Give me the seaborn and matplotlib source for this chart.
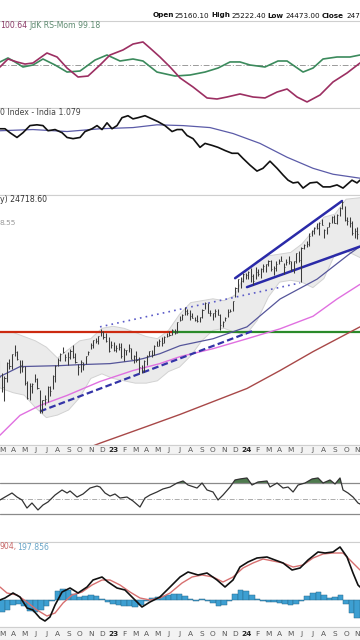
import numpy as np
import seaborn as sns
import matplotlib.pyplot as plt
from matplotlib.ticker import NullLocator

# x axis = months since Jan 2022 (Mar 2022 = 2, Jan 2023 = 12, Jan 2024 = 24)
month_pos = list(range(2, 35))
month_lbl = ['M', 'A', 'M', 'J', 'J', 'A', 'S', 'O', 'N', 'D', '23', 'F', 'M', 'A', 'M', 'J',
             'J', 'A', 'S', 'O', 'N', 'D', '24', 'F', 'M', 'A', 'M', 'J', 'J', 'A', 'S', 'O', 'N']

# --- JdK RS panel ---
rsr_m = [1.82, 2.54, 3.17, 3.89, 4.79, 5.69, 6.78, 7.86, 9.03, 10.38, 11.46, 12.63, 13.80, 14.70, 15.96,
         17.59, 18.94, 20.29, 21.46, 22.54, 23.44, 24.34, 25.69, 26.86, 27.68, 29.12, 30.02, 30.92, 32.18,
         33.35, 34.25]
rsr = [100.38, 100.88, 100.38, 99.75, 100.0, 100.75, 100.0, 99.12, 99.25, 100.62, 101.25, 100.5, 100.75,
       100.5, 99.12, 98.62, 98.75, 99.12, 99.62, 100.38, 100.38, 100.0, 99.75, 100.5, 100.5, 99.12, 99.62,
       100.75, 101.0, 101.0, 101.25]
rsm_m = [1.82, 2.54, 3.35, 4.07, 4.79, 5.42, 6.05, 6.96, 7.86, 8.85, 9.75, 10.83, 11.73, 12.90, 13.80, 14.70,
         15.33, 16.23, 17.14, 18.04, 19.21, 20.47, 21.37, 22.27, 23.44, 24.61, 25.69, 26.78, 27.68, 28.58,
         29.48, 30.65, 31.82, 33.08, 34.25]
rsm = [99.75, 100.75, 100.38, 100.12, 100.25, 100.88, 101.5, 101.0, 99.62, 98.5, 98.62, 100.0, 101.25,
       101.88, 102.62, 102.88, 102.12, 101.0, 99.75, 98.38, 97.25, 95.88, 95.75, 96.0, 96.38, 96.0, 95.88,
       96.62, 97.0, 96.0, 95.38, 96.25, 97.88, 99.0, 100.25]

# --- ratio vs India index ---
ratio_m = [1.82, 2.27, 2.72, 3.35, 3.89, 4.52, 5.15, 5.69, 6.14, 6.78, 7.41, 7.86, 8.40, 9.03, 9.48, 10.11,
           10.56, 11.01, 11.46, 11.91, 12.36, 12.81, 13.35, 13.80, 14.25, 14.88, 15.51, 16.05, 16.68, 17.32,
           17.77, 18.22, 18.67, 19.21, 19.84, 20.29, 20.92, 21.46, 22.09, 22.72, 23.26, 23.71, 24.34, 24.97,
           25.51, 26.14, 26.78, 27.32, 27.77, 28.22, 28.67, 29.12, 29.75, 30.38, 30.92, 31.55, 32.18, 32.72,
           33.53, 33.98, 34.25]
ratio = [1.209, 1.209, 1.199, 1.187, 1.199, 1.217, 1.219, 1.217, 1.204, 1.207, 1.199, 1.187, 1.184, 1.187,
         1.202, 1.209, 1.217, 1.207, 1.224, 1.209, 1.217, 1.237, 1.242, 1.234, 1.237, 1.242, 1.234, 1.227,
         1.217, 1.202, 1.207, 1.207, 1.192, 1.184, 1.162, 1.172, 1.167, 1.162, 1.154, 1.147, 1.147, 1.134,
         1.117, 1.102, 1.109, 1.127, 1.109, 1.092, 1.079, 1.072, 1.074, 1.059, 1.072, 1.074, 1.062, 1.062,
         1.067, 1.059, 1.079, 1.072, 1.079]
ratio_ma_m = [1.82, 4.79, 7.86, 10.83, 13.80, 15.96, 18.31, 20.74, 22.81, 25.24, 27.68, 30.02, 31.82, 34.25]
ratio_ma = [1.204, 1.207, 1.202, 1.209, 1.212, 1.219, 1.217, 1.212, 1.197, 1.172, 1.137, 1.109, 1.094, 1.084]

# --- weekly price bars (late Feb 2022 .. mid Nov 2024) ---
high_22 = [17350, 16820, 16700, 17340, 17440, 17700, 18110, 17800, 17400, 17400,
           17130, 16480, 16400, 16420, 16790, 16600, 16100, 15710, 15900, 16280,
           16300, 16750, 17170, 17490, 17720, 17990, 17690, 17780, 17930, 18100,
           17720, 17230, 17430, 17340, 17600, 17840, 18180, 18360, 18450, 18550,
           18890, 18780, 18650, 18480, 18270]
low_22 = [16200, 16030, 15670, 16450, 17000, 17000, 17600, 17400, 16820, 16890,
          16340, 15740, 15700, 16000, 16440, 16170, 15180, 15190, 15510, 15600,
          15860, 16140, 16440, 17150, 17350, 17710, 17350, 17170, 17450, 17500,
          17290, 16750, 16900, 16960, 17250, 17640, 17900, 17970, 18210, 18130,
          18550, 18400, 18250, 17780, 17970]
close_22 = [16660, 16245, 16630, 17290, 17150, 17670, 17780, 17480, 17170, 17100,
            16410, 15780, 16270, 16350, 16580, 16200, 15290, 15700, 15750, 16220,
            16050, 16720, 17160, 17400, 17700, 17760, 17560, 17540, 17830, 17530,
            17330, 17090, 17310, 17190, 17580, 17790, 18120, 18350, 18310, 18510,
            18700, 18500, 18270, 17810, 18110]
high_23 = [18250, 18100, 18200, 18200, 17970, 17880, 18130, 17960, 17650, 17800,
           17530, 17210, 17400, 17640, 17840, 17860, 18090, 18270, 18390, 18460,
           18530, 18660, 18780, 18860, 18890, 19200, 19520, 19600, 19990, 19870,
           19800, 19650, 19470, 19580, 19460, 19870, 20220, 20170, 19800, 19660,
           19850, 19850, 19590, 19280, 19450, 19880, 19880, 20290, 21010, 21490,
           21590, 21800]
low_23 = [17800, 17760, 17850, 17490, 17350, 17650, 17760, 17460, 17260, 17320,
          16850, 16830, 16880, 17200, 17580, 17550, 17650, 18040, 18050, 18060,
          18180, 18480, 18540, 18580, 18640, 18650, 19270, 19300, 19560, 19560,
          19300, 19400, 19250, 19230, 19220, 19430, 19870, 19640, 19500, 19330,
          19480, 19540, 18840, 18970, 19260, 19450, 19700, 19770, 20500, 20770,
          20980, 21330]
close_23 = [17860, 17960, 18030, 17600, 17850, 17860, 17940, 17470, 17590, 17410,
            17100, 16950, 17360, 17600, 17830, 17620, 18070, 18070, 18310, 18200,
            18500, 18530, 18560, 18830, 18670, 19190, 19330, 19560, 19750, 19650,
            19520, 19430, 19310, 19270, 19440, 19820, 20190, 19670, 19640, 19650,
            19750, 19540, 19050, 19230, 19430, 19730, 19790, 20270, 20970, 21460,
            21350, 21730]
high_24 = [21830, 21930, 22120, 21750, 22130, 22050, 22070, 22300, 22350, 22530,
           22530, 22180, 22520, 22620, 22780, 22400, 22630, 22790, 22520, 22500,
           22990, 23110, 23340, 23490, 23670, 24170, 24400, 24590, 24850, 24860,
           25080, 24420, 24590, 24870, 25270, 25330, 25430, 25850, 26280, 25910,
           25230, 25210, 24980, 24500, 24540, 24340]
low_24 = [21500, 21450, 21290, 21140, 21450, 21630, 21530, 21880, 21870, 22220,
          21900, 21710, 21950, 22300, 22500, 21780, 22250, 22350, 21930, 21820,
          22390, 22420, 21280, 23180, 23350, 23390, 23990, 24140, 24450, 24070,
          24690, 23890, 24100, 24550, 24810, 24800, 24760, 25290, 25710, 24970,
          24690, 24570, 24070, 23890, 23820, 23480]
close_24 = [21710, 21890, 21620, 21350, 21850, 21780, 22040, 22210, 22340, 22490,
            22020, 22100, 22330, 22510, 22520, 22150, 22420, 22480, 22060, 22470,
            22960, 22530, 23290, 23460, 23500, 24010, 24320, 24500, 24530, 24830,
            24720, 24370, 24540, 24820, 25240, 24850, 25360, 25790, 26180, 25010,
            24960, 24850, 24180, 24300, 24150, 23530]

bar_high = high_22 + high_23 + high_24
bar_low = low_22 + low_23 + low_24
bar_close = close_22 + close_23 + close_24
bar_m = [1.76 + 0.2287 * i for i in range(len(bar_high))]

# bollinger envelope
bb_m = [1.8, 3, 4, 5, 6, 7, 8, 9, 10, 11, 12, 13, 14, 15, 16, 17, 18, 19, 20, 21, 22, 23, 24, 25, 26, 27,
        28, 29, 30, 31, 32, 33, 34.25]
bb_up = [18700, 18700, 18500, 18300, 18000, 17500, 17900, 18300, 18400, 18900, 19000, 18900, 18700, 18500,
         18400, 18800, 19600, 20200, 20300, 20400, 20300, 20600, 21900, 22500, 22800, 22900, 23000, 23500,
         24300, 25200, 25400, 26400, 26500]
bb_lo = [16200, 16000, 15900, 15400, 15000, 15100, 15300, 15800, 16600, 16800, 16600, 16500, 16400, 16400,
         16500, 16900, 17100, 17600, 18300, 18800, 18900, 18700, 18600, 19300, 20500, 21300, 21400, 21300,
         21000, 21500, 22900, 23100, 22700]

ma50_m = [1.82, 3.62, 7.23, 9.03, 11.73, 13.80, 14.70, 16.23, 18.04, 21.01, 24.07, 27.05, 30.38, 33.35, 34.25]
ma50 = [16684, 17117, 17161, 17205, 17250, 17384, 17475, 17700, 18070, 18397, 18972, 20390, 21464, 22938, 23357]
ma100_m = [1.82, 3.62, 5.42, 7.86, 10.83, 13.80, 16.23, 18.04, 21.01, 24.07, 27.05, 30.02, 32.18, 34.25]
ma100 = [14333, 15087, 15481, 15887, 16471, 16944, 17252, 17566, 17930, 18397, 18876, 19500, 20390, 21178]
ma200_m = [9.93, 10.83, 15.06, 18.04, 24.07, 27.05, 30.02, 34.25]
ma200 = [13900, 14040, 14664, 15125, 16176, 16945, 17794, 18972]

chan_top_m, chan_top = [23.0, 32.63], [21518, 26277]
chan_bot_m, chan_bot = [24.07, 34.25], [21027, 23357]
dot_m, dot = [10.83, 28.85], [18972, 21257]
dash_m, dash = [5.42, 24.61], [15245, 18778]
level = 18720
level_split = 17.41

# --- RSI ---
rsi_m = [1.82, 2.27, 2.90, 3.35, 3.80, 4.25, 4.70, 5.24, 5.69, 6.14, 6.78, 7.41, 7.86, 8.13, 8.76, 9.30, 9.93,
         10.56, 10.83, 11.28, 11.73, 12.18, 12.63, 13.26, 13.80, 14.43, 14.88, 15.33, 15.96, 16.50, 17.14,
         17.77, 18.31, 18.76, 19.57, 20.02, 20.47, 21.01, 21.46, 21.91, 22.54, 22.99, 23.44, 24.07, 24.52,
         25.06, 25.87, 26.14, 26.78, 27.32, 27.77, 28.22, 28.67, 29.30, 29.93, 30.47, 30.92, 31.55, 32.00,
         32.45, 32.72, 33.17, 33.62, 34.07, 34.25]
rsi = [48.1, 51.9, 57.1, 51.9, 48.1, 37.7, 44.2, 35.2, 41.6, 45.5, 54.5, 61.0, 57.1, 59.7, 51.9, 55.8, 63.5,
       66.1, 64.8, 57.1, 53.2, 55.8, 50.6, 51.9, 46.8, 39.0, 50.6, 54.5, 58.4, 62.3, 64.8, 70.0, 72.6, 67.4,
       63.5, 70.0, 61.0, 58.4, 48.1, 54.5, 64.8, 73.9, 75.2, 76.5, 67.4, 71.3, 72.6, 64.8, 70.0, 63.5, 64.8,
       58.4, 67.4, 70.0, 75.2, 76.5, 70.0, 73.9, 68.7, 76.5, 61.0, 57.1, 51.9, 44.2, 42.9]

# --- MACD ---
macd_m = [1.82, 2.27, 2.99, 3.62, 4.25, 4.79, 5.42, 5.87, 6.32, 6.78, 7.41, 8.13, 8.85, 9.66, 10.20, 11.01,
          11.55, 12.36, 13.08, 13.80, 14.61, 15.33, 16.23, 17.14, 18.04, 18.76, 19.66, 20.47, 21.37, 22.09,
          22.81, 23.44, 24.16, 24.97, 25.87, 26.59, 27.32, 28.13, 28.85, 29.57, 30.47, 31.10, 31.82, 32.45,
          33.08, 33.62, 34.07, 34.25]
macd = [0, 20, 70, 30, -80, -100, -180, -210, -170, -50, 80, 120, 70, 130, 200, 230, 180, 120, 100, 20, -70,
        -20, 30, 130, 230, 280, 250, 270, 200, 130, 200, 330, 380, 420, 430, 400, 370, 300, 320, 400, 480, 470,
        480, 530, 430, 270, 150, 130]
sig_m = [1.82, 2.45, 3.35, 4.25, 5.15, 6.05, 6.78, 7.50, 8.31, 9.21, 10.11, 11.01, 11.73, 12.63, 13.53, 14.43,
         15.33, 16.23, 17.14, 18.22, 19.12, 20.02, 21.01, 21.91, 22.81, 23.71, 24.61, 25.51, 26.41, 27.32,
         28.22, 29.12, 30.02, 30.92, 31.82, 32.72, 33.62, 34.25]
sig = [130, 70, 50, -20, -100, -160, -130, -30, 50, 80, 150, 200, 200, 150, 80, 20, 0, 20, 70, 170, 230, 250,
       230, 180, 230, 320, 370, 410, 390, 370, 330, 350, 420, 460, 470, 470, 370, 300]
hist_m = [2.0 + 0.5 * i for i in range(65)]
hist = [-120, -100, -50, -40, -60, -110, -120, -100, -60, -10, 90, 110, 100, 60, 30, 40, 50, 40, 10, -20,
        -40, -50, -55, -60, -70, -50, -10, 20, 30, 40, 50, 60, 60, 40, 10, -5, 10, -10, -30, -60, -50, -10,
        60, 100, 90, 50, 10, -10, -20, -20, -30, -40, -50, -40, -10, 40, 70, 80, 50, 20, 30, 50, -40, -130,
        -180]

sns.set_theme(style="white")
plt.rcParams['font.family'] = ['DejaVu Sans']

W, H = 360, 640
fig = plt.figure(figsize=(W / 100, H / 100), dpi=100)
XL = (1.82, 34.25)


def panel(top, bottom, log=False):
    # rows given in pixels from the top of the picture
    ax = fig.add_axes([0, 1 - bottom / H, 1, (bottom - top) / H])
    if log:
        ax.set_yscale('log')
    ax.set_xlim(*XL)
    ax.xaxis.set_major_locator(NullLocator())
    ax.yaxis.set_major_locator(NullLocator())
    ax.yaxis.set_minor_locator(NullLocator())
    for s in ['left', 'right']:
        ax.spines[s].set_visible(False)
    for s in ['top', 'bottom']:
        ax.spines[s].set_color('#cfcfcf')
        ax.spines[s].set_linewidth(0.8)
    return ax


def line(ax, x, y, color, lw, **kw):
    sns.lineplot(x=x, y=y, ax=ax, color=color, linewidth=lw, estimator=None, sort=False, legend=False, **kw)
    ax.set_xlabel('')
    ax.set_ylabel('')


def strip(top, bottom):
    ax = panel(top, bottom)
    ax.set_facecolor('#f3f3f3')
    ax.set_ylim(0, 1)
    for m, t in zip(month_pos, month_lbl):
        yr = t.isdigit()
        ax.text(m, 0.48, t, ha='center', va='center', fontsize=5.3,
                color='#222222' if yr else '#555555', fontweight='bold' if yr else 'normal')


def ftext(xp, yp, t, **kw):
    fig.text(xp / W, 1 - yp / H, t, va='center', ha='left', **kw)


# header
hdr = [(153, 'Open', True), (174, '25160.10', False), (211, 'High', True), (231, '25222.40', False),
       (267, 'Low', True), (285, '24473.00', False), (322, 'Close', True), (346, '24718.60', False)]
for xp, t, b in hdr:
    ftext(xp, 15.5, t, fontsize=5.2, color='#111111', fontweight='bold' if b else 'normal')

# panel 1: JdK RS
ax1 = panel(21, 108)
ax1.set_ylim(94.625, 105.5)
ax1.axhline(100, color='#9a9a9a', lw=0.7, ls=(0, (6, 2, 1, 2)))
line(ax1, rsr_m, rsr, '#3b8a5c', 1.2)
line(ax1, rsm_m, rsm, '#9c2f62', 1.2)
ftext(0, 25.5, '100.64', fontsize=5.6, color='#8a3a66')
ftext(29, 25.5, 'JdK RS-Mom 99.18', fontsize=5.6, color='#5e8a70')

# panel 2: ratio
ax2 = panel(108, 195)
ax2.set_ylim(1.0415, 1.2615)
line(ax2, ratio_ma_m, ratio_ma, '#5b5ba8', 0.9)
line(ax2, ratio_m, ratio, '#111111', 1.2)
ftext(0, 112.5, '0 Index - India 1.079', fontsize=5.6, color='#444444')

# panel 3: price
ax3 = panel(195, 445, log=True)
ax3.set_ylim(13974, 26688)
ax3.fill_between(bb_m, bb_lo, bb_up, color='#ebebeb', lw=0, zorder=0)
line(ax3, bb_m, bb_up, '#d2d2d2', 0.7)
line(ax3, bb_m, bb_lo, '#d2d2d2', 0.7)
ax3.hlines(level, XL[0], level_split, color='#cc2a10', lw=1.6)
ax3.hlines(level, level_split, XL[1], color='#2a8a2a', lw=1.6)
line(ax3, ma200_m, ma200, '#a84848', 1.0)
line(ax3, ma100_m, ma100, '#e070e0', 1.0)
line(ax3, ma50_m, ma50, '#55559a', 0.9)
line(ax3, dash_m, dash, '#3434a8', 1.6, linestyle=(0, (3, 1.5)))
line(ax3, dot_m, dot, '#5a5ac8', 1.2, linestyle=(0, (1, 2.5)))
line(ax3, chan_top_m, chan_top, '#2a2aa8', 1.8)
line(ax3, chan_bot_m, chan_bot, '#2a2aa8', 1.8)
ax3.vlines(bar_m, bar_low, bar_high, color='#3a3a3a', lw=0.75, zorder=3)
ax3.hlines(bar_close, bar_m, [m + 0.1 for m in bar_m], color='#3a3a3a', lw=0.6, zorder=3)
ftext(0, 200, 'y) 24718.60', fontsize=5.6, color='#333333')
ftext(0, 223, '8.55', fontsize=5.4, color='#9a9a9a')

strip(445, 454)

# panel 4: RSI
ax4 = panel(454, 542)
ax4.set_ylim(-6.1, 107.4)
ax4.axhline(70, color='#8a8a8a', lw=0.9)
ax4.axhline(30, color='#8a8a8a', lw=0.9)
ax4.axhline(50, color='#a0a0a0', lw=0.6, ls=(0, (6, 2, 1, 2)))
rsi_arr = np.array(rsi)
ax4.fill_between(rsi_m, 70, rsi_arr, where=rsi_arr > 70, interpolate=True, color='#4e7a4e', lw=0)
line(ax4, rsi_m, rsi, '#333333', 0.9)

# panel 5: MACD
ax5 = panel(542, 627)
ax5.set_ylim(-270, 580)
ax5.bar(hist_m, hist, width=0.5, color='#3d9fd2', edgecolor='#2a6a8c', lw=0.35)
line(ax5, sig_m, sig, '#d77070', 1.0)
line(ax5, macd_m, macd, '#111111', 1.2)
ftext(0, 547, '904,', fontsize=5.6, color='#c86a6a')
ftext(17, 547, '197.856', fontsize=5.6, color='#6aa6c8')

strip(627, 640)

fig.savefig('out.png', dpi=100)
